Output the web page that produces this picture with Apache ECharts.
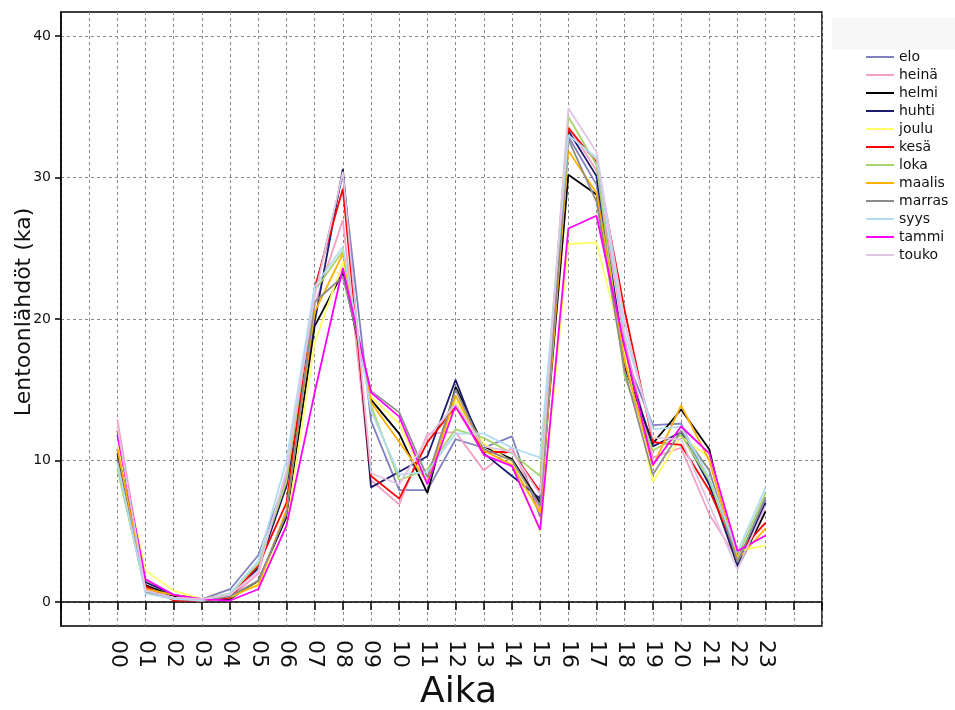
<!DOCTYPE html>
<html>
  <head>
    <meta charset="utf-8" />
    <title>Lentoonlähdöt</title>
    <script src="https://cdn.jsdelivr.net/npm/echarts@6/dist/echarts.min.js"></script>
  </head>
  <body style="margin: 0">
    <div id="main" style="width: 955px; height: 710px"></div>
    <script type="text/javascript">
      // tunnit ja kuukausittaiset keskiarvot
      var hours = ["00", "01", "02", "03", "04", "05", "06", "07", "08", "09", "10", "11",
                   "12", "13", "14", "15", "16", "17", "18", "19", "20", "21", "22", "23"];
      var yTicks = [0, 10, 20, 30, 40];

      var elo    = [10.2, 0.9, 0.3, 0.2, 0.9, 3.3, 8.8, 21.9, 30.2, 12.8, 7.9, 7.9, 11.5, 10.9, 11.7, 6.0, 32.9, 29.5, 17.5, 12.5, 12.6, 8.3, 2.7, 7.2];
      var heina  = [12.9, 1.0, 0.2, 0.1, 0.3, 2.0, 9.0, 21.0, 27.0, 8.6, 6.9, 11.9, 12.0, 9.3, 10.9, 6.5, 33.6, 30.5, 18.5, 10.2, 10.9, 6.2, 3.0, 6.5];
      var helmi  = [10.5, 1.2, 0.4, 0.2, 0.2, 1.5, 6.0, 19.5, 23.3, 14.3, 11.9, 7.7, 15.2, 11.0, 10.1, 7.0, 30.2, 28.8, 16.6, 11.2, 13.6, 10.8, 2.4, 6.4];
      var huhti  = [10.8, 1.4, 0.5, 0.2, 0.4, 2.4, 8.2, 19.8, 30.6, 8.1, 9.2, 10.3, 15.7, 10.5, 8.9, 7.3, 33.3, 30.1, 17.2, 11.0, 12.0, 8.3, 2.6, 7.0];
      var joulu  = [11.2, 2.2, 0.8, 0.2, 0.3, 1.3, 5.3, 18.3, 24.0, 14.5, 12.6, 8.3, 14.2, 11.2, 9.9, 5.0, 25.3, 25.4, 17.5, 8.5, 11.7, 10.2, 3.6, 4.0];
      var kesa   = [12.1, 1.1, 0.1, 0.1, 0.3, 2.6, 7.0, 22.2, 29.2, 8.9, 7.3, 11.3, 13.8, 10.6, 10.6, 7.8, 33.5, 31.1, 20.6, 11.3, 11.1, 7.9, 3.4, 5.6];
      var loka   = [9.4, 0.8, 0.3, 0.2, 0.6, 2.7, 8.5, 22.0, 24.8, 13.9, 8.6, 9.4, 12.2, 11.6, 10.5, 8.9, 34.3, 30.9, 15.9, 10.7, 11.8, 8.6, 3.2, 7.7];
      var maalis = [10.8, 0.9, 0.5, 0.2, 0.4, 1.2, 6.5, 20.5, 24.6, 14.1, 11.3, 8.5, 14.6, 10.7, 9.7, 6.3, 31.9, 28.9, 17.0, 9.6, 13.9, 10.0, 3.0, 5.2];
      var marras = [10.0, 0.7, 0.3, 0.1, 0.4, 1.5, 6.2, 21.2, 23.0, 14.9, 13.4, 8.8, 15.0, 10.8, 10.0, 6.8, 32.7, 28.3, 16.3, 9.0, 12.1, 9.3, 2.8, 7.4];
      var syys   = [9.8, 0.6, 0.2, 0.1, 0.6, 2.9, 10.0, 22.3, 25.1, 13.5, 9.0, 9.2, 11.9, 11.9, 10.9, 10.2, 33.0, 31.4, 19.0, 12.2, 12.4, 8.8, 3.5, 8.1];
      var tammi  = [11.8, 1.6, 0.5, 0.2, 0.1, 0.9, 5.4, 14.8, 23.6, 14.8, 13.1, 8.3, 13.9, 10.4, 9.6, 5.1, 26.4, 27.3, 18.0, 9.7, 12.4, 10.5, 3.6, 4.7];
      var touko  = [12.4, 0.8, 0.3, 0.2, 0.5, 2.2, 9.3, 21.6, 30.4, 9.1, 8.3, 11.6, 14.0, 11.0, 10.6, 7.6, 34.9, 31.8, 19.8, 11.6, 11.5, 6.9, 2.3, 6.8];

      var months = [
        ["elo", elo, "#8080c0"],
        ["heinä", heina, "#f4a0c4"],
        ["helmi", helmi, "#000000"],
        ["huhti", huhti, "#1c1c6c"],
        ["joulu", joulu, "#ffff66"],
        ["kesä", kesa, "#ff0000"],
        ["loka", loka, "#a8d46c"],
        ["maalis", maalis, "#ffb000"],
        ["marras", marras, "#8c8c8c"],
        ["syys", syys, "#b0dcf4"],
        ["tammi", tammi, "#ff00ff"],
        ["touko", touko, "#e0c4e4"],
      ];

      // tyhjät paikat akselin molemmissa päissä
      var categories = ["", " "].concat(hours, ["  ", "   "]);

      var series = months.map(function (m) {
        return {
          name: m[0],
          type: "line",
          symbol: "none",
          data: ["-", "-"].concat(m[1], ["-", "-"]),
          lineStyle: { width: 1.8, color: m[2] },
          itemStyle: { color: m[2] },
        };
      });

      var myChart = echarts.init(document.getElementById("main"), null, { renderer: "canvas" });
      var font = "DejaVu Sans";
      var split = { show: true, lineStyle: { color: "#888", type: [3, 3], width: 1 } };

      myChart.setOption({
        animation: false,
        textStyle: { fontFamily: font },
        graphic: [
          { type: "rect", left: 832, top: 18, shape: { width: 123, height: 32 }, style: { fill: "#f7f7f7" } },
        ],
        grid: {
          left: 61, right: 133, top: 12, bottom: 84,
          outerBoundsMode: "none",
          containLabel: false,
          show: true, borderColor: "#000", borderWidth: 1.5,
        },
        legend: {
          orient: "vertical",
          left: 861,
          top: 45,
          itemWidth: 28,
          itemHeight: 14,
          itemGap: 4,
          icon: "path://M0,0 L28,0 L28,2 L0,2 Z",
          textStyle: { fontFamily: font, fontSize: 14, color: "#111" },
          data: months.map(function (m) { return m[0]; }),
        },
        xAxis: {
          type: "category",
          boundaryGap: false,
          data: categories,
          name: "Aika",
          nameLocation: "middle",
          nameGap: 49,
          nameMoveOverlap: false,
          nameTextStyle: { fontFamily: font, fontSize: 36, color: "#111", padding: [0, 0, 0, 34] },
          axisLine: { lineStyle: { color: "#000", width: 1.5 } },
          axisTick: { interval: 0, length: 8, lineStyle: { color: "#000", width: 1.5 } },
          axisLabel: { interval: 0, rotate: -90, margin: 14, fontSize: 22, color: "#111", fontFamily: font },
          splitLine: Object.assign({ interval: 0 }, split),
        },
        yAxis: {
          type: "value",
          min: -1.7,
          max: 41.7,
          name: "Lentoonlähdöt (ka)",
          nameLocation: "middle",
          nameGap: 26,
          nameMoveOverlap: false,
          nameTextStyle: { fontFamily: font, fontSize: 22, color: "#111", padding: [0, 0, 0, 14] },
          axisLine: { show: true, lineStyle: { color: "#000", width: 1.5 } },
          axisTick: { show: true, length: 6, customValues: yTicks, lineStyle: { color: "#000", width: 1.5 } },
          axisLabel: { customValues: yTicks, margin: 10, fontSize: 14, color: "#111", fontFamily: font },
          splitLine: split,
        },
        series: series,
      });
    </script>
  </body>
</html>
